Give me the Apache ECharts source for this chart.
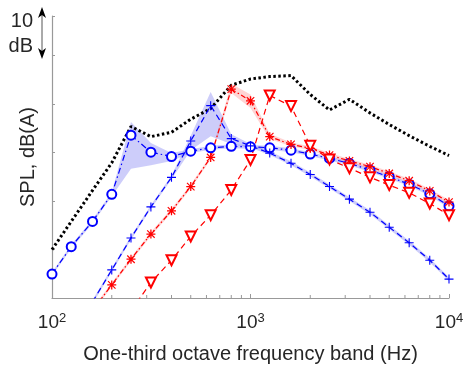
<!DOCTYPE html>
<html>
<head>
<meta charset="utf-8">
<script src="https://cdn.jsdelivr.net/npm/echarts@6/dist/echarts.min.js"></script>
<style>
  html, body { margin: 0; padding: 0; background: #fff; }
  #chart { width: 465px; height: 365px; }
</style>
</head>
<body>
<div id="chart"></div>
<script>
// one-third octave band centres (Hz)
const freqs = [100, 125, 160, 200, 250, 315, 400, 500, 630, 800, 1000, 1250, 1600, 2000, 2500, 3150, 4000, 5000, 6300, 8000, 10000];
const minorTicks = [200, 300, 400, 500, 600, 700, 800, 900, 2000, 3000, 4000, 5000, 6000, 7000, 8000, 9000];

// levels in dB relative to the bottom of the axis
const total = [10.0, 15.8, 22.2, 27.9, 35.4, 33.3, 34.2, 36.9, 39.1, 43.9, 45.2, 45.7, 45.9, 42.0, 38.8, 41.0, 38.2, 35.8, 33.5, 31.3, 29.4];
const circles = [4.95, 10.6, 15.8, 21.4, 33.6, 30.1, 29.2, 30.3, 31.0, 31.3, 31.2, 31.0, 30.5, 29.7, 28.8, 27.8, 26.4, 25.0, 23.5, 21.5, 19.0];
const circlesLow = [4.6, 10.2, 15.4, 21.0, 26.7, 27.4, 28.3, 29.9, 30.6, 30.9, 30.8, 30.6, 30.1, 29.3, 28.4, 27.4, 26.0, 24.6, 23.1, 21.1, 18.6];
const circlesHigh = [5.3, 11.0, 16.2, 21.8, 36.3, 32.0, 29.9, 30.7, 31.4, 31.7, 31.6, 31.4, 30.9, 30.1, 29.2, 28.2, 26.8, 25.4, 23.9, 21.9, 19.4];
const crosses = [null, null, -0.8, 5.8, 12.4, 18.8, 24.9, 32.4, 39.7, 32.9, 31.4, 29.9, 27.8, 25.5, 23.0, 20.4, 17.7, 14.6, 11.4, 7.8, 3.9];
const crossesLow = [null, null, -1.2, 5.4, 12.0, 18.4, 24.5, 30.5, 33.4, 31.8, 31.0, 29.5, 27.4, 25.1, 22.6, 20.0, 17.3, 14.2, 11.0, 7.4, 3.5];
const crossesHigh = [null, null, -0.4, 6.2, 12.8, 19.2, 25.3, 33.5, 42.5, 33.8, 31.8, 30.3, 28.2, 25.9, 23.4, 20.8, 18.1, 15.0, 11.8, 8.2, 4.3];
const stars = [null, null, -2.5, 2.7, 8.0, 13.2, 18.0, 23.0, 29.0, 43.1, 40.7, 33.3, 31.7, 30.9, 29.5, 28.3, 27.1, 25.7, 24.2, 22.1, 19.8];
const starsLow = [null, null, -2.9, 2.3, 7.6, 12.8, 17.6, 22.6, 28.6, 42.3, 39.2, 32.8, 31.3, 30.5, 29.1, 27.9, 26.7, 25.3, 23.8, 21.7, 19.4];
const starsHigh = [null, null, -2.1, 3.1, 8.4, 13.6, 18.4, 23.4, 29.4, 44.2, 42.0, 33.9, 32.1, 31.3, 29.9, 28.7, 27.5, 26.1, 24.6, 22.5, 20.2];
const triangles = [null, null, null, null, -2.6, 3.2, 7.8, 12.7, 17.1, 22.3, 28.5, 41.8, 39.6, 31.4, 28.6, 26.8, 24.9, 23.3, 21.7, 19.5, 17.1];

const textColor = '#262626';
const axisColor = '#999999';
const font = '"Liberation Sans", Arial, sans-serif';
const blue = '#0000ff';
const red = '#ff0000';

const plusPath = 'path://M4.4,0H5.6V10H4.4ZM0,4.4H10V5.6H0Z';
const starPath = 'path://M4.3,0H5.7V10H4.3ZM0,4.3H10V5.7H0ZM1.3,0.4L9.6,8.7L8.7,9.6L0.4,1.3ZM8.7,0.4L9.6,1.3L1.3,9.6L0.4,8.7Z';

function pairs(arr) {
    return freqs.map((f, i) => [f, arr[i]]).filter(d => d[1] != null);
}

function band(lo, hi, color) {
    return {
        type: 'custom',
        data: [[1000, 30]],
        silent: true,
        clip: true,
        z: 1,
        renderItem: function (params, api) {
            const pts = [];
            for (let i = 0; i < freqs.length; i++) {
                if (hi[i] != null) pts.push(api.coord([freqs[i], hi[i]]));
            }
            for (let i = freqs.length - 1; i >= 0; i--) {
                if (lo[i] != null) pts.push(api.coord([freqs[i], lo[i]]));
            }
            return { type: 'polygon', shape: { points: pts }, style: { fill: color } };
        }
    };
}

const chart = echarts.init(document.getElementById('chart'));

const option = {
    animation: false,
    grid: { left: 52, right: 16, top: 16, bottom: 67, containLabel: false, outerBoundsMode: 'none' },
    xAxis: {
        type: 'log',
        logBase: 10,
        min: 100,
        max: 10000,
        name: 'One-third octave frequency band (Hz)',
        nameLocation: 'middle',
        nameGap: 46,
        nameTextStyle: { color: textColor, fontSize: 20, fontFamily: font },
        axisLine: { lineStyle: { color: axisColor, width: 1.2 } },
        axisTick: { inside: true, length: 4, lineStyle: { color: axisColor } },
        splitLine: { show: false },
        axisLabel: {
            margin: 14,
            formatter: function (v) {
                return '{b|10}{s|' + Math.round(Math.log10(v)) + '}';
            },
            rich: {
                b: { fontSize: 19, color: textColor, fontFamily: font, lineHeight: 22 },
                s: { fontSize: 13, color: textColor, fontFamily: font, verticalAlign: 'top', lineHeight: 22 }
            }
        }
    },
    yAxis: {
        type: 'value',
        min: 0,
        max: 58.2,
        interval: 10,
        name: 'SPL, dB(A)',
        nameLocation: 'middle',
        nameGap: 14,
        nameTextStyle: { color: textColor, fontSize: 20, fontFamily: font },
        axisLine: { show: true, lineStyle: { color: axisColor, width: 1.2 } },
        axisTick: { show: true, inside: true, length: 3, lineStyle: { color: axisColor } },
        axisLabel: { show: false },
        splitLine: { show: false }
    },
    graphic: [
        { type: 'text', style: { x: 33, y: 21, text: '10', textAlign: 'right', textVerticalAlign: 'middle', fill: textColor, font: '20px ' + font } },
        { type: 'text', style: { x: 33, y: 46, text: 'dB', textAlign: 'right', textVerticalAlign: 'middle', fill: textColor, font: '20px ' + font } },
        { type: 'line', shape: { x1: 42, y1: 14, x2: 42, y2: 52 }, style: { stroke: '#555', lineWidth: 1 } },
        { type: 'polygon', shape: { points: [[42, 7], [38, 18], [42, 15], [46, 18]] }, style: { fill: '#000' } },
        { type: 'polygon', shape: { points: [[42, 59], [38, 48], [42, 51], [46, 48]] }, style: { fill: '#000' } }
    ],
    series: [
        band(circlesLow, circlesHigh, 'rgba(90, 90, 240, 0.3)'),
        band(crossesLow, crossesHigh, 'rgba(90, 90, 240, 0.3)'),
        band(starsLow, starsHigh, 'rgba(255, 60, 60, 0.22)'),
        {
            type: 'custom',
            data: minorTicks.map(f => [f, 0]),
            silent: true,
            z: 5,
            renderItem: function (params, api) {
                const p = api.coord([api.value(0), 0]);
                return { type: 'line', shape: { x1: p[0], y1: p[1], x2: p[0], y2: p[1] - 3 }, style: { stroke: axisColor, lineWidth: 1 } };
            }
        },
        {
            type: 'line', data: pairs(total), showSymbol: false, z: 3, clip: true,
            lineStyle: { color: '#000', width: 3, type: [2.5, 2.5], cap: 'butt' }
        },
        {
            type: 'line', data: pairs(circles), symbol: 'emptyCircle', symbolSize: 9, clip: true, z: 4,
            itemStyle: { color: blue, borderWidth: 1.2 },
            lineStyle: { color: blue, width: 1.2, type: [6, 3, 1.5, 3] }
        },
        {
            type: 'line', data: pairs(crosses), symbol: plusPath, symbolSize: 9, clip: true, z: 4,
            itemStyle: { color: blue },
            lineStyle: { color: blue, width: 1.2, type: [6, 4] }
        },
        {
            type: 'line', data: pairs(stars), symbol: starPath, symbolSize: 9, clip: true, z: 4,
            itemStyle: { color: red },
            lineStyle: { color: red, width: 1.2, type: [5, 2.5, 1.5, 2.5] }
        },
        {
            type: 'line', data: pairs(triangles), symbol: 'emptyTriangle', symbolRotate: 180, symbolSize: 10, clip: true, z: 4,
            itemStyle: { color: red, borderWidth: 1.2 },
            lineStyle: { color: red, width: 1.2, type: [6, 4] }
        }
    ]
};

chart.setOption(option);
</script>
</body>
</html>
